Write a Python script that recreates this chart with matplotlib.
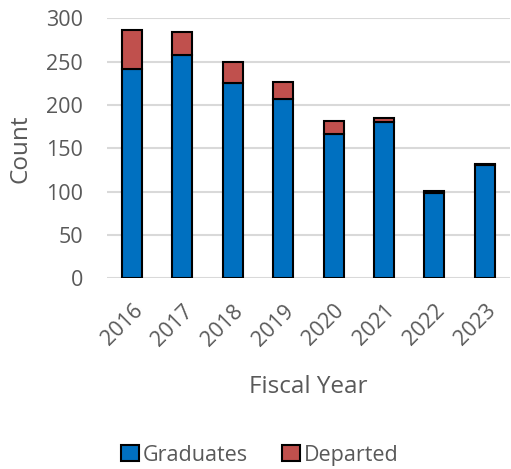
import matplotlib.pyplot as plt
import numpy as np

# Graduates and departures per fiscal year
years = ["2016", "2017", "2018", "2019", "2020", "2021", "2022", "2023"]
graduates = [241, 258, 225, 207, 166, 180, 99, 131]
departed = [45, 26, 24, 19, 15, 5, 2, 1]

plt.rcParams['font.family'] = ['Open Sans', 'DejaVu Sans']
text_col = "#595959"

fig = plt.figure(figsize=(5.11, 4.69), dpi=100)
ax = fig.add_axes([0.209, 0.4066, 0.789, 0.5544])

x = np.arange(len(years))
ax.bar(x, graduates, width=0.4, color="#0070C0", edgecolor="black", linewidth=1.5,
       label="Graduates", zorder=3)
ax.bar(x, departed, width=0.4, bottom=graduates, color="#C0504D", edgecolor="black",
       linewidth=1.5, label="Departed", zorder=3)

ax.set_xlim(-0.5, len(years) - 0.5)
ax.set_ylim(0, 300)
ax.set_yticks(np.arange(0, 301, 50))
ax.set_xticks(x)
ax.set_xticklabels(years, rotation=45, ha="right", rotation_mode="anchor")
ax.tick_params(axis="both", length=0, labelsize=15.5, colors=text_col)
ax.tick_params(axis="x", pad=16)
ax.tick_params(axis="y", pad=17)

ax.grid(axis="y", color="#d9d9d9", linewidth=1.5, zorder=0)
for s in ax.spines.values():
    s.set_visible(False)

ax.set_ylabel("Count", fontsize=17.5, color=text_col, labelpad=10)
ax.set_xlabel("Fiscal Year", fontsize=17.5, color=text_col, labelpad=18)

ax.legend(loc="center", bbox_to_anchor=(0.38, -0.68), ncol=2, frameon=False,
          fontsize=15.5, labelcolor=text_col, handlelength=0.8, handleheight=0.8,
          handletextpad=0.2, columnspacing=1.6)

fig.savefig("out.png", dpi=100)
